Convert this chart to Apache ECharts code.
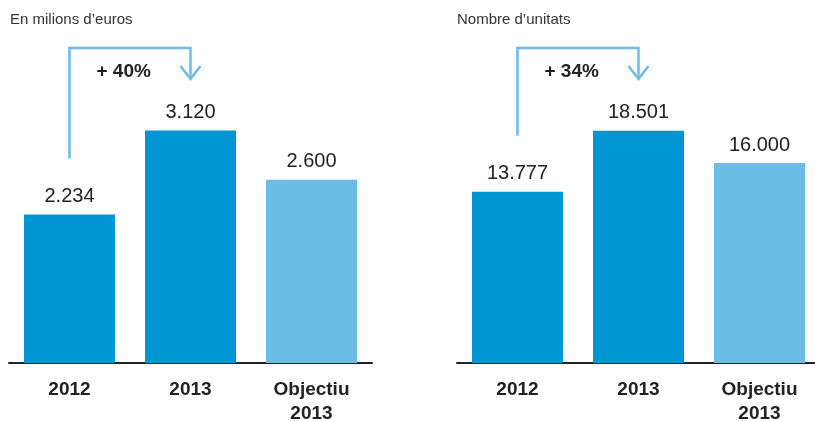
<!DOCTYPE html>
<html>
<head>
<meta charset="utf-8">
<script src="https://cdn.jsdelivr.net/npm/echarts@6/dist/echarts.min.js"></script>
<style>
  html, body { margin: 0; padding: 0; background: #fff; }
  #chart { width: 815px; height: 421px; }
</style>
</head>
<body>
<div id="chart"></div>
<script>
// Categories shared by both panels
const categories = ['2012', '2013', 'Objectiu\n2013'];
// Facturació, en milions d'euros
const revenue = [2234, 3120, 2600];
// Vendes, en nombre d'unitats
const units = [13777, 18501, 16000];
// Creixement 2012 -> 2013
const growthLabels = ['+ 40%', '+ 34%'];
const subtitles = ['En milions d\u2019euros', 'Nombre d\u2019unitats'];

const DARK = '#0095d3';
const LIGHT = '#6cbde6';
const TEXT = '#222222';
const FONT = '"Liberation Sans", Arial, sans-serif';

// 1234 -> "1.234"
function fmt(v) {
  return String(v).replace(/\B(?=(\d{3})+(?!\d))/g, '.');
}

function barData(values) {
  return values.map((v, i) => ({
    value: v,
    itemStyle: { color: i === 2 ? LIGHT : DARK }
  }));
}

// Elbow arrow from the first bar to the second, with the growth text
function growthArrow(label) {
  return function (params, api) {
    const from = api.coord([api.value(0), api.value(2)]);
    const to = api.coord([api.value(1), api.value(2)]);
    const top = params.coordSys.y + 1;
    const x0 = from[0];
    const x1 = to[0];
    const yBottom = from[1] - 56;
    const tip = top + 31;
    const line = { stroke: LIGHT, lineWidth: 2.5, fill: null };
    return {
      type: 'group',
      children: [
        {
          type: 'polyline',
          shape: { points: [[x0, yBottom], [x0, top], [x1, top], [x1, tip]] },
          style: line
        },
        {
          type: 'polyline',
          shape: { points: [[x1 - 10, tip - 13], [x1, tip], [x1 + 10, tip - 13]] },
          style: line
        },
        {
          type: 'text',
          x: x0 + 27,
          y: top + 24,
          style: {
            text: label,
            fill: TEXT,
            font: 'bold 19px ' + FONT,
            verticalAlign: 'middle',
            align: 'left'
          }
        }
      ]
    };
  };
}

function xAxis(gridIndex) {
  return {
    type: 'category',
    gridIndex,
    data: categories,
    axisTick: { show: false },
    axisLine: { lineStyle: { color: TEXT, width: 2 } },
    axisLabel: {
      color: TEXT,
      fontFamily: FONT,
      fontWeight: 'bold',
      fontSize: 19,
      lineHeight: 24,
      margin: 15,
      interval: 0
    }
  };
}

function barSeries(idx, values) {
  return {
    type: 'bar',
    xAxisIndex: idx,
    yAxisIndex: idx,
    barWidth: 91,
    data: barData(values),
    label: {
      show: true,
      position: 'top',
      distance: 8,
      color: TEXT,
      fontFamily: FONT,
      fontSize: 20,
      formatter: p => fmt(p.value)
    }
  };
}

function arrowSeries(idx, values) {
  return {
    type: 'custom',
    xAxisIndex: idx,
    yAxisIndex: idx,
    clip: false,
    z: 5,
    silent: true,
    encode: { x: 0, y: 2 },
    data: [[0, 1, values[0]]],
    renderItem: growthArrow(growthLabels[idx])
  };
}

const subtitleStyle = { fontFamily: FONT, fontSize: 15, fontWeight: 'normal', color: '#333' };

const chart = echarts.init(document.getElementById('chart'), null, { renderer: 'canvas' });

chart.setOption({
  animation: false,
  backgroundColor: '#ffffff',
  title: [
    { text: subtitles[0], left: 10, top: 12, padding: 0, textStyle: subtitleStyle },
    { text: subtitles[1], left: 457, top: 12, padding: 0, textStyle: subtitleStyle }
  ],
  grid: [
    { left: 9, top: 47, width: 363, height: 316, containLabel: false, outerBoundsMode: 'none' },
    { left: 457, top: 47, width: 363, height: 316, containLabel: false, outerBoundsMode: 'none' }
  ],
  xAxis: [xAxis(0), xAxis(1)],
  yAxis: [
    { type: 'value', gridIndex: 0, min: 670, max: 4000, show: false },
    { type: 'value', gridIndex: 1, min: 500, max: 25000, show: false }
  ],
  series: [
    barSeries(0, revenue),
    barSeries(1, units),
    arrowSeries(0, revenue),
    arrowSeries(1, units)
  ]
});
</script>
</body>
</html>
